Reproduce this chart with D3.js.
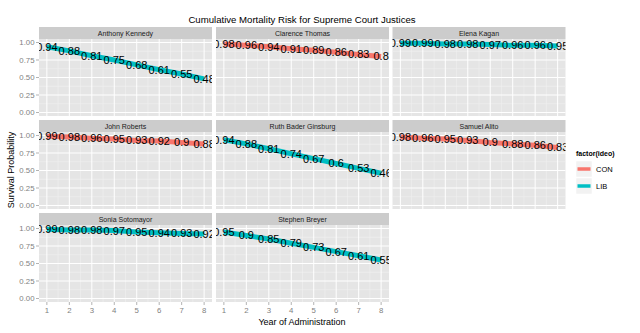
<!DOCTYPE html>
<html><head><meta charset="utf-8">
<script src="https://cdn.jsdelivr.net/npm/d3@7"></script>
<style>body{margin:0;background:#fff}svg{display:block}text{font-family:"Liberation Sans",Arial,sans-serif}</style>
</head><body><svg id="c" width="640" height="333"></svg>
<script>
const justices = ["Anthony Kennedy","Clarence Thomas","Elena Kagan","John Roberts","Ruth Bader Ginsburg","Samuel Alito","Sonia Sotomayor","Stephen Breyer"];
const ideo = ["LIB","CON","LIB","CON","LIB","CON","LIB","LIB"];
const years = [1,2,3,4,5,6,7,8];
const kennedy = [0.94,0.88,0.81,0.75,0.68,0.61,0.55,0.48];
const thomas = [0.98,0.96,0.94,0.91,0.89,0.86,0.83,0.8];
const kagan = [0.99,0.99,0.98,0.98,0.97,0.96,0.96,0.95];
const roberts = [0.99,0.98,0.96,0.95,0.93,0.92,0.9,0.88];
const ginsburg = [0.94,0.88,0.81,0.74,0.67,0.6,0.53,0.46];
const alito = [0.98,0.96,0.95,0.93,0.9,0.88,0.86,0.83];
const sotomayor = [0.99,0.98,0.98,0.97,0.95,0.94,0.93,0.92];
const breyer = [0.95,0.9,0.85,0.79,0.73,0.67,0.61,0.55];
const values = [kennedy,thomas,kagan,roberts,ginsburg,alito,sotomayor,breyer];
const yTicks = [0,0.25,0.5,0.75,1];
const yTickLabels = ["0.00","0.25","0.50","0.75","1.00"];
const legendLevels = ["CON","LIB"];

const svg = d3.select("#c");
const color = d3.scaleOrdinal().domain(legendLevels).range(["#F8766D","#00BFC4"]);
const pw = 173, ph = 77, stripH = 12, colX = [39,216,392.5], rowY = [27,120,213];
const x = d3.scaleLinear().domain([0.65,8.35]).range([0,pw]);
const y = d3.scaleLinear().domain([-0.05,1.05]).range([ph,0]);
const xMinor = d3.range(1.5,8,1);
const yMinor = [0.125,0.375,0.625,0.875];
const labFont = 11;

svg.append("text").attr("x",302).attr("y",23).attr("text-anchor","middle")
  .attr("font-size",9.6).attr("fill","#000").text("Cumulative Mortality Risk for Supreme Court Justices");

justices.forEach((name,i)=>{
  const r = Math.floor(i/3), c = i%3;
  const g = svg.append("g").attr("transform",`translate(${colX[c]},${rowY[r]})`);
  g.append("rect").attr("width",pw).attr("height",stripH).attr("fill","#CCCCCC");
  g.append("text").attr("x",pw/2).attr("y",stripH/2+2.5).attr("text-anchor","middle")
    .attr("font-size",7).attr("fill","#1a1a1a").text(name);
  const p = g.append("g").attr("transform",`translate(0,${stripH})`);
  const cid = "clip"+i;
  p.append("clipPath").attr("id",cid).append("rect").attr("width",pw).attr("height",ph);
  p.append("rect").attr("width",pw).attr("height",ph).attr("fill","#E5E5E5");
  p.selectAll(".mnx").data(xMinor).join("line").attr("x1",d=>x(d)).attr("x2",d=>x(d)).attr("y1",0).attr("y2",ph).attr("stroke","#F2F2F2").attr("stroke-width",0.5);
  p.selectAll(".mny").data(yMinor).join("line").attr("y1",d=>y(d)).attr("y2",d=>y(d)).attr("x1",0).attr("x2",pw).attr("stroke","#F2F2F2").attr("stroke-width",0.5);
  p.selectAll(".mjx").data(years).join("line").attr("x1",d=>x(d)).attr("x2",d=>x(d)).attr("y1",0).attr("y2",ph).attr("stroke","#fff").attr("stroke-width",1);
  p.selectAll(".mjy").data(yTicks).join("line").attr("y1",d=>y(d)).attr("y2",d=>y(d)).attr("x1",0).attr("x2",pw).attr("stroke","#fff").attr("stroke-width",1);
  const pts = years.map((yr,k)=>({yr, v: values[i][k]}));
  const inner = p.append("g").attr("clip-path",`url(#${cid})`);
  inner.append("path").datum(pts).attr("fill","none").attr("stroke",color(ideo[i])).attr("stroke-width",5)
    .attr("d",d3.line().x(d=>x(d.yr)).y(d=>y(d.v)));
  inner.selectAll("text.lab").data(pts).join("text").attr("class","lab")
    .attr("x",d=>x(d.yr)).attr("y",d=>y(d.v)+labFont*0.36).attr("text-anchor","middle")
    .attr("font-size",labFont).attr("fill","#000").text(d=>String(d.v));
  if (c===0){
    const ya = p.append("g");
    ya.selectAll("line").data(yTicks).join("line").attr("x1",-3).attr("x2",0).attr("y1",d=>y(d)).attr("y2",d=>y(d)).attr("stroke","#7f7f7f").attr("stroke-width",0.6);
    ya.selectAll("text").data(yTicks).join("text").attr("x",-4.5).attr("y",d=>y(d)+2.8).attr("text-anchor","end")
      .attr("font-size",7.8).attr("fill","#7f7f7f").text((d,k)=>yTickLabels[k]);
  }
  if (r===2){
    const xa = p.append("g");
    xa.selectAll("line").data(years).join("line").attr("x1",d=>x(d)).attr("x2",d=>x(d)).attr("y1",ph).attr("y2",ph+3).attr("stroke","#7f7f7f").attr("stroke-width",0.6);
    xa.selectAll("text").data(years).join("text").attr("x",d=>x(d)).attr("y",ph+10.5).attr("text-anchor","middle")
      .attr("font-size",7.8).attr("fill","#7f7f7f").text(d=>d);
  }
});

svg.append("text").attr("x",302).attr("y",325).attr("text-anchor","middle").attr("font-size",9).attr("fill","#000").text("Year of Administration");
svg.append("text").attr("transform","translate(14,170) rotate(-90)").attr("text-anchor","middle").attr("font-size",9).attr("fill","#000").text("Survival Probability");

const lg = svg.append("g").attr("transform","translate(576,150)");
lg.append("text").attr("x",0).attr("y",6).attr("font-size",7).attr("font-weight","bold").attr("fill","#000").text("factor(ideo)");
legendLevels.forEach((lv,k)=>{
  const yy = 11 + k*17;
  lg.append("rect").attr("x",0).attr("y",yy).attr("width",16).attr("height",16).attr("fill","#F2F2F2").attr("stroke","#fff").attr("stroke-width",0.5);
  lg.append("line").attr("x1",1.5).attr("x2",14.5).attr("y1",yy+8).attr("y2",yy+8).attr("stroke",color(lv)).attr("stroke-width",3.5);
  lg.append("text").attr("x",20).attr("y",yy+11).attr("font-size",7.5).attr("fill","#000").text(lv);
});
</script></body></html>
